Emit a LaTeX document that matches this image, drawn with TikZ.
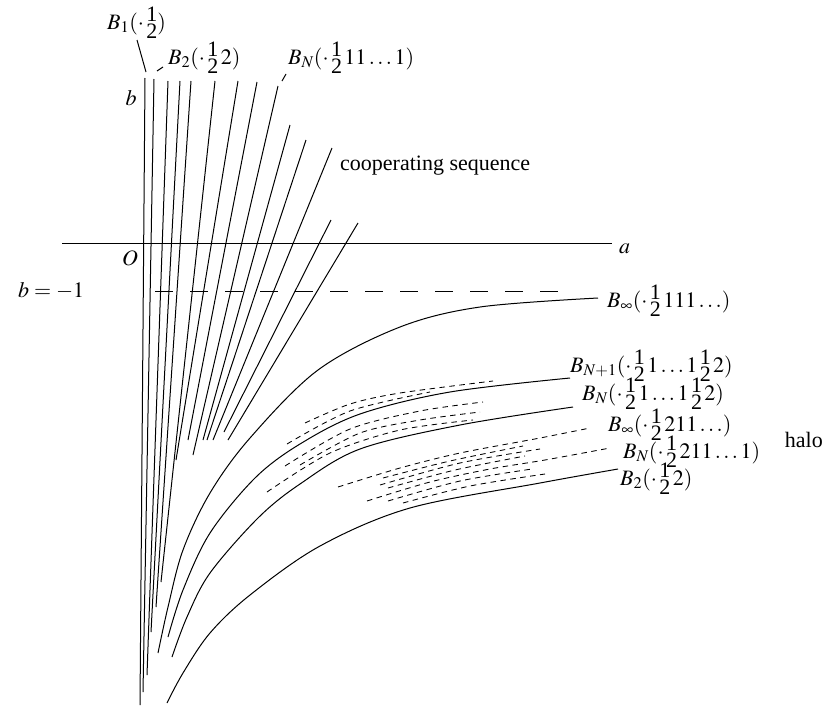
\documentclass[tikz,border=0pt]{standalone}
\usepackage{mathptmx}
\usepackage{fontspec}
\setmainfont{Liberation Serif}
\newcommand{\hlf}{\mbox{\rlap{\raisebox{0.36em}{1}}\raisebox{-0.42em}{2}}}
\begin{document}
\begin{tikzpicture}[x=1pt,y=-1pt,
  solid line/.style={line width=1pt},
  halo/.style={line width=0.85pt, dash pattern=on 5.5pt off 4.5pt},
  lbl/.style={font=\fontsize{22}{26}\selectfont, inner sep=0pt},
  curve/.style={solid line, smooth, tension=0.55}]
\useasboundingbox (0,0) rectangle (830,707);
% cooperating sequence (straight lines)
\draw[solid line] (145,78) -- (140,705);
\draw[solid line] (154,79) -- (143,692);
\draw[solid line] (168,81) -- (147,675);
\draw[solid line] (180,81) -- (151,632);
\draw[solid line] (191,81) -- (156,607);
\draw[solid line] (215,81) -- (161,582);
\draw[solid line] (238,81) -- (176,460);
\draw[solid line] (257,82) -- (188,440);
\draw[solid line] (278,86) -- (193,455);
\draw[solid line] (290,125) -- (203,440);
\draw[solid line] (306,140) -- (207,440);
\draw[solid line] (332,148) -- (213,440);
\draw[solid line] (331,220) -- (224,432);
\draw[solid line] (358,223) -- (228,440);
% axis and b=-1
\draw[solid line] (62,243) -- (612,243);
\draw[line width=0.85pt, dash pattern=on 18pt off 17pt] (155,291) -- (560,291);
% leaders
\draw[solid line] (137,40) -- (146,72);
\draw[solid line] (157,71) -- (163,67);
\draw[solid line] (282,81) -- (286,74);
% solid curves
\draw[curve] plot coordinates {(598,298) (480,307) (400,327) (318,370) (250,438) (210,493) (183,550) (168,607) (158,653)};
\draw[curve] plot coordinates {(570,378) (450,392) (360,414) (300,444) (255,478) (210,533) (183,590) (168,637)};
\draw[curve] plot coordinates {(573,407) (460,425) (360,449) (300,484) (258,518) (210,573) (187,617) (172,657)};
\draw[curve] plot coordinates {(618,469) (540,483) (410,508) (320,546) (250,595) (210,633) (183,673) (167,703)};
% halo rows, middle cluster
\draw[halo] plot[smooth] coordinates {(305,423) (350,404) (400,393) (493,381)};
\draw[halo] plot[smooth] coordinates {(287,444) (350,411) (430,392)};
\draw[halo] plot[smooth] coordinates {(285,466) (350,429) (420,411) (483,402)};
\draw[halo] plot[smooth] coordinates {(300,465) (360,433) (420,420) (480,412)};
\draw[halo] plot[smooth] coordinates {(267,492) (330,453) (400,430) (473,420)};
% halo rows, lower cluster
\draw[halo] plot[smooth] coordinates {(338,487) (400,468) (460,453) (540,438) (590,428)};
\draw[halo] plot[smooth] coordinates {(383,478) (450,461) (523,446)};
\draw[halo] plot[smooth] coordinates {(380,485) (460,463) (540,449)};
\draw[halo] plot[smooth] coordinates {(388,488) (455,470) (525,456)};
\draw[halo] plot[smooth] coordinates {(367,501) (430,482) (490,469) (545,460) (610,448)};
\draw[halo] plot[smooth] coordinates {(388,501) (460,481) (532,469)};
\draw[halo] plot[smooth] coordinates {(403,503) (470,486) (545,474)};
% labels
\node[lbl, anchor=base west] (lB1) at (107,29) {$B_1(\cdot\,\hlf)$};
\node[lbl, anchor=base west] (lB2) at (168,64) {$B_2(\cdot\,\hlf\,2)$};
\node[lbl, anchor=base west] (lBN) at (288,64) {$B_N(\cdot\,\hlf\,11\ldots1)$};
\node[lbl, anchor=base] (lb) at (131,105) {$b$};
\node[lbl, anchor=base] (lO) at (130,265) {$O$};
\node[lbl, anchor=base west] (la) at (619,253) {$a$};
\node[lbl, anchor=base west] (lbm) at (18,297) {$b=-1$};
\node[lbl, anchor=base west] (lcoop) at (340,170) {cooperating sequence};
\node[lbl, anchor=base west] (lBinfA) at (607,307) {$B_\infty(\cdot\,\hlf\,111\ldots)$};
\node[lbl, anchor=base west] (lBNa) at (570,372) {$B_{N+1}(\cdot\,\hlf\,1\ldots1\,\hlf\,2)$};
\node[lbl, anchor=base west] (lBNb) at (582,400) {$B_N(\cdot\,\hlf\,1\ldots1\,\hlf\,2)$};
\node[lbl, anchor=base west] (lBinfB) at (608,431) {$B_\infty(\cdot\,\hlf\,211\ldots)$};
\node[lbl, anchor=base west] (lBNc) at (623,458) {$B_N(\cdot\,\hlf\,211\ldots1)$};
\node[lbl, anchor=base west] (lB2b) at (620,485) {$B_2(\cdot\,\hlf\,2)$};
\node[lbl, anchor=base east] (lhalo) at (823,447) {halo};
\end{tikzpicture}
\end{document}
